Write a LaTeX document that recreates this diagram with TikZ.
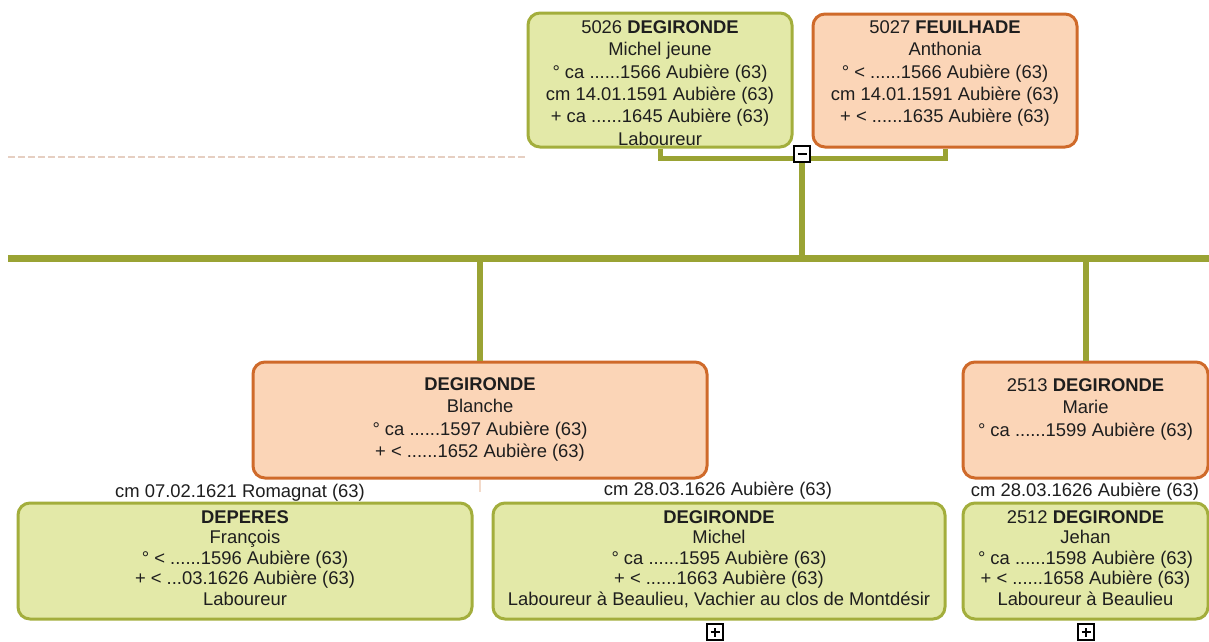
\documentclass[tikz,border=0pt]{standalone}
\usepackage{fontspec}
\setmainfont{Liberation Sans}
\definecolor{lineol}{HTML}{9AA334}
\definecolor{gfill}{HTML}{E3E9A8}
\definecolor{gdraw}{HTML}{A3AE3C}
\definecolor{ofill}{HTML}{FBD5B7}
\definecolor{odraw}{HTML}{CF6A2A}
\definecolor{txt}{HTML}{1E1E1E}
\definecolor{dashc}{HTML}{E6CFC2}
\begin{document}
\begin{tikzpicture}[x=1pt,y=-1pt,
  gbox/.style={draw=gdraw,fill=gfill,line width=3pt,rounded corners=12pt,inner sep=0pt},
  obox/.style={draw=odraw,fill=ofill,line width=3pt,rounded corners=12pt,inner sep=0pt},
  uptxt/.style={font=\fontsize{18.4}{22.3}\selectfont,align=center,inner sep=0pt,text=txt,anchor=north},
  lowtxt/.style={font=\fontsize{18.4}{20.4}\selectfont,align=center,inner sep=0pt,text=txt,anchor=north},
  cmtxt/.style={font=\fontsize{18.4}{20.4}\selectfont,inner sep=0pt,text=txt},
  conn/.style={draw=lineol,line width=6pt},
  couple/.style={draw=lineol,line width=5pt},
  pmbox/.style={draw=black,fill=white,line width=1.5pt,minimum size=16pt,inner sep=0pt},
  sign/.style={draw=black,line width=1.6pt},
  dashline/.style={draw=dashc,line width=2pt,dash pattern=on 7pt off 3pt},
  faint/.style={draw=odraw!25,line width=1.5pt}]
\useasboundingbox[fill=white] (0,0) rectangle (1209,641);

% ---- parents ----
\node[gbox,minimum width=264pt,minimum height=134pt] (A) at (660,80) {};
\node[uptxt] (At) at (660,20.5) {5026 \textbf{DEGIRONDE}\\Michel jeune\\° ca ......1566 Aubière (63)\\cm 14.01.1591 Aubière (63)\\+ ca ......1645 Aubière (63)\\Laboureur};
\node[obox,minimum width=264pt,minimum height=133pt] (B) at (945,80.5) {};
\node[uptxt] (Bt) at (945,20.5) {5027 \textbf{FEUILHADE}\\Anthonia\\° < ......1566 Aubière (63)\\cm 14.01.1591 Aubière (63)\\+ < ......1635 Aubière (63)};

% ---- children ----
\node[obox,minimum width=454pt,minimum height=116pt] (C) at (480,420) {};
\node[uptxt] (Ct) at (480,377.5) {\textbf{DEGIRONDE}\\Blanche\\° ca ......1597 Aubière (63)\\+ < ......1652 Aubière (63)};
\node[obox,minimum width=245pt,minimum height=116pt] (D) at (1085.5,420) {};
\node[uptxt] (Dt) at (1085.5,378.5) {2513 \textbf{DEGIRONDE}\\Marie\\° ca ......1599 Aubière (63)};

% ---- spouses ----
\node[gbox,minimum width=454pt,minimum height=116pt] (E) at (245,561) {};
\node[lowtxt] (Et) at (245,510.5) {\textbf{DEPERES}\\François\\° < ......1596 Aubière (63)\\+ < ...03.1626 Aubière (63)\\Laboureur};
\node[gbox,minimum width=452pt,minimum height=116pt] (F) at (719,561) {};
\node[lowtxt] (Ft) at (719,510.5) {\textbf{DEGIRONDE}\\Michel\\° ca ......1595 Aubière (63)\\+ < ......1663 Aubière (63)\\Laboureur à Beaulieu, Vachier au clos de Montdésir};
\node[gbox,minimum width=245pt,minimum height=116pt] (G) at (1085.5,561) {};
\node[lowtxt] (Gt) at (1085.5,510.5) {2512 \textbf{DEGIRONDE}\\Jehan\\° ca ......1598 Aubière (63)\\+ < ......1658 Aubière (63)\\Laboureur à Beaulieu};

% ---- marriage labels ----
\node[cmtxt] (Lm1) at (240,493) {cm 07.02.1621 Romagnat (63)};
\node[cmtxt] (Lm2) at (718,491) {cm 28.03.1626 Aubière (63)};
\node[cmtxt] (Lm3) at (1085,492) {cm 28.03.1626 Aubière (63)};

% ---- connectors ----
\coordinate (barL) at (8,258);
\coordinate (barR) at (1209,258);
\coordinate (dl) at (8,157);
\draw[dashline] (dl) -- (dl -| A.west);
\draw[couple] (A.south) -- ++(0,10) -| (B.south);
\node[pmbox] (m1) at (802,154) {};
\draw[sign] ([xshift=-4.5pt]m1.center) -- ([xshift=4.5pt]m1.center);
\draw[conn] (m1.south) -- (m1.south |- barL);
\draw[draw=lineol,line width=7pt] (barL) -- (barR);
\draw[conn] (C.north) -- (C.north |- barL);
\draw[conn] (D.north) -- (D.north |- barL);
\draw[faint] (C.south) -- ++(0,12);

% ---- expand boxes ----
\node[pmbox] (p1) at (715,632) {};
\draw[sign] ([xshift=-4.5pt]p1.center) -- ([xshift=4.5pt]p1.center);
\draw[sign] ([yshift=-4.5pt]p1.center) -- ([yshift=4.5pt]p1.center);
\node[pmbox] (p2) at (1086,632) {};
\draw[sign] ([xshift=-4.5pt]p2.center) -- ([xshift=4.5pt]p2.center);
\draw[sign] ([yshift=-4.5pt]p2.center) -- ([yshift=4.5pt]p2.center);
\end{tikzpicture}
\end{document}
